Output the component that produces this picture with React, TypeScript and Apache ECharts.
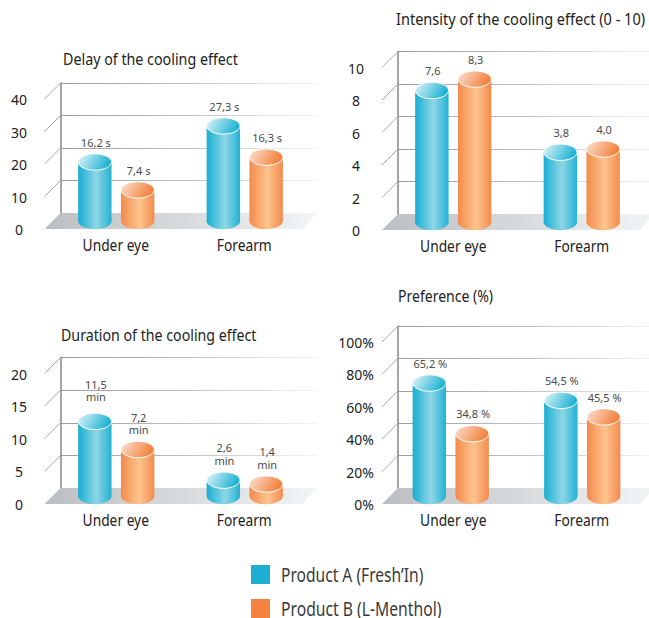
import React, { useEffect, useRef } from "react";
import * as echarts from "echarts";

const categories = ["Under eye", "Forearm"];
const productA = "Product A (Fresh\u2019In)";
const productB = "Product B (L-Menthol)";

const delayA = [15.7, 26.8];
const delayB = [7.1, 17.2];
const delayLabelsA = ["16,2 s", "27,3 s"];
const delayLabelsB = ["7,4 s", "16,3 s"];

const intensityA = [7.6, 3.8];
const intensityB = [8.3, 4.0];
const intensityLabelsA = ["7,6", "3,8"];
const intensityLabelsB = ["8,3", "4,0"];

const durationA = [10.2, 1.2];
const durationB = [5.9, 0.6];
const durationLabelsA = ["11,5\nmin", "2,6\nmin"];
const durationLabelsB = ["7,2\nmin", "1,4\nmin"];

const preferenceA = [64.8, 54.1];
const preferenceB = [33.5, 43.9];
const preferenceLabelsA = ["65,2 %", "54,5 %"];
const preferenceLabelsB = ["34,8 %", "45,5 %"];

const SANS = "'Noto Sans', sans-serif";
const DEPTH = 16;
const RX = 16.7;
const RY = 8.2;
const BAR_GAP = 21.4;
const FLOOR_BACK = 256;
const FLOOR_FRONT = 242;
const BLUE = "#1db0d3";
const ORANGE = "#f4833d";

const blueBody = () =>
  new echarts.graphic.LinearGradient(0, 0, 1, 0, [
    { offset: 0, color: "#18aed3" },
    { offset: 0.55, color: "#8fd6e6" },
    { offset: 1, color: "#22b2d4" },
  ]);
const orangeBody = () =>
  new echarts.graphic.LinearGradient(0, 0, 1, 0, [
    { offset: 0, color: "#f48a4c" },
    { offset: 0.55, color: "#fdc48e" },
    { offset: 1, color: "#f48a4c" },
  ]);
const blueTop = () =>
  new echarts.graphic.LinearGradient(0, 0, 1, 0.3, [
    { offset: 0, color: "#e6f6fa" },
    { offset: 1, color: "#1fb3d4" },
  ]);
const orangeTop = () =>
  new echarts.graphic.LinearGradient(0, 0, 1, 0.3, [
    { offset: 0, color: "#fbe3d6" },
    { offset: 1, color: "#f4823c" },
  ]);

type Panel = {
  title: string;
  titleX: number;
  titleY: number;
  titleScale: number;
  left: number;
  top: number;
  height: number;
  max: number;
  step: number;
  fmt: string;
  labelAlign: string;
  labelMargin: number;
  a: number[];
  b: number[];
  la: string[];
  lb: string[];
  shift: number[];
  nudge: number[];
};

const panels: Panel[] = [
  {
    title: "Delay of the cooling effect", titleX: 63, titleY: 59, titleScale: 0.84,
    left: 60.5, top: 83, height: 130, max: 40, step: 10, fmt: "{value}",
    labelAlign: "center", labelMargin: 25.5,
    a: delayA, b: delayB, la: delayLabelsA, lb: delayLabelsB,
    shift: [-8.5, -8.5], nudge: [0, 0, 0, 0],
  },
  {
    title: "Intensity of the cooling effect (0 - 10)", titleX: 396, titleY: 19, titleScale: 0.855,
    left: 398, top: 51.5, height: 162.5, max: 10, step: 2, fmt: "{value}",
    labelAlign: "center", labelMargin: 26,
    a: intensityA, b: intensityB, la: intensityLabelsA, lb: intensityLabelsB,
    shift: [-9, -9], nudge: [0, 0, 0, 0],
  },
  {
    title: "Duration of the cooling effect", titleX: 61, titleY: 334, titleScale: 0.835,
    left: 60.5, top: 357.5, height: 130.5, max: 20, step: 5, fmt: "{value}",
    labelAlign: "center", labelMargin: 25.5,
    a: durationA, b: durationB, la: durationLabelsA, lb: durationLabelsB,
    shift: [-8.5, -8.5], nudge: [5, 0, 0, 0],
  },
  {
    title: "Preference (%)", titleX: 398, titleY: 295, titleScale: 0.825,
    left: 398, top: 326, height: 162, max: 100, step: 20, fmt: "{value}%",
    labelAlign: "right", labelMargin: 8,
    a: preferenceA, b: preferenceB, la: preferenceLabelsA, lb: preferenceLabelsB,
    shift: [-11.5, -8.5], nudge: [0, 0, 0, 0],
  },
];

function frameSeries(p: Panel, i: number) {
  const ticks: number[][] = [];
  for (let v = 0; v <= p.max; v += p.step) ticks.push([0, v]);
  return {
    type: "custom",
    silent: true,
    xAxisIndex: i,
    yAxisIndex: i,
    z: 1,
    data: ticks,
    renderItem: (params: any, api: any) => {
      const v = api.value(1);
      const x = p.left;
      const y = api.coord([0, v])[1];
      if (v === 0) {
        return {
          type: "polygon",
          shape: {
            points: [
              [x, y],
              [x + FLOOR_BACK, y],
              [x + FLOOR_FRONT, y + DEPTH],
              [x - DEPTH, y + DEPTH],
            ],
          },
          style: {
            fill: new echarts.graphic.LinearGradient(0, 0, 1, 0, [
              { offset: 0, color: "#bdbec1" },
              { offset: 1, color: "#f3f4f5" },
            ]),
          },
        };
      }
      return {
        type: "line",
        shape: { x1: x, y1: y, x2: x - DEPTH, y2: y + DEPTH },
        style: { stroke: "#a5a7a7", lineWidth: 1 },
      };
    },
  };
}

function categorySeries(p: Panel, i: number) {
  return {
    type: "custom",
    silent: true,
    xAxisIndex: i,
    yAxisIndex: i,
    z: 3,
    data: categories.map((c, k) => [k, 0]),
    renderItem: (params: any, api: any) => {
      const k = api.value(0);
      const c = api.coord([k, 0]);
      return {
        type: "text",
        x: c[0] - 9,
        y: c[1] + 31.5,
        scaleX: 0.81,
        style: {
          text: categories[k],
          x: 0,
          y: 0,
          align: "center",
          verticalAlign: "middle",
          font: `17px ${SANS}`,
          fill: "#222222",
        },
      };
    },
  };
}

function barSeries(p: Panel, i: number, name: string, values: number[], labels: string[], side: number) {
  const isA = side < 0;
  return {
    type: "custom",
    name,
    silent: true,
    xAxisIndex: i,
    yAxisIndex: i,
    z: 2,
    itemStyle: { color: isA ? BLUE : ORANGE },
    data: values.map((v, k) => [k, v]),
    renderItem: (params: any, api: any) => {
      const k = api.value(0);
      const c = api.coord([k, api.value(1)]);
      const base = api.coord([k, 0])[1] + DEPTH / 2;
      const cx = c[0] + p.shift[k] + side * BAR_GAP;
      const topY = c[1];
      const nudge = p.nudge[k * 2 + (isA ? 0 : 1)];
      return {
        type: "group",
        children: [
          {
            type: "ellipse",
            shape: { cx, cy: base, rx: RX, ry: RY },
            style: { fill: isA ? blueBody() : orangeBody() },
          },
          {
            type: "rect",
            shape: { x: cx - RX, y: topY, width: RX * 2, height: base - topY },
            style: { fill: isA ? blueBody() : orangeBody() },
          },
          {
            type: "ellipse",
            shape: { cx, cy: topY, rx: RX, ry: RY },
            style: { fill: isA ? blueTop() : orangeTop(), stroke: "#ffffff", lineWidth: 1 },
          },
          {
            type: "text",
            style: {
              text: labels[k],
              x: cx + 1,
              y: topY - 13.5 - nudge,
              align: "center",
              verticalAlign: "bottom",
              font: `11px ${SANS}`,
              lineHeight: 12.5,
              fill: "#4a4a4a",
            },
          },
        ],
      };
    },
  };
}

const scaledText = (text: string, x: number, y: number, size: number, scaleX: number, fill: string) => ({
  type: "text",
  x,
  y,
  scaleX,
  style: { text, x: 0, y: 0, align: "left", verticalAlign: "middle", font: `${size}px ${SANS}`, lineHeight: size - 2, fill },
});

function buildOption() {
  const n = panels.length;
  return {
    animation: false,
    backgroundColor: "#ffffff",
    graphic: [
      ...panels.map((p) => scaledText(p.title, p.titleX, p.titleY, 17, p.titleScale, "#222222")),
      { type: "rect", shape: { x: 251, y: 565, width: 19, height: 19 }, style: { fill: BLUE } },
      { type: "rect", shape: { x: 251, y: 599, width: 19, height: 19 }, style: { fill: ORANGE } },
      scaledText(productA, 281, 574, 20, 0.78, "#3a3a3a"),
      scaledText(productB, 281, 608, 20, 0.785, "#3a3a3a"),
    ],
    grid: [
      // back wall of each panel: the marks and gridlines
      ...panels.map((p) => ({ left: p.left, top: p.top, width: 257, height: p.height, outerBoundsMode: "none" })),
      // front edge of each panel's floor: the value labels
      ...panels.map((p) => ({
        left: p.left - DEPTH,
        top: p.top + DEPTH + 0.5,
        width: 257,
        height: p.height,
        outerBoundsMode: "none",
      })),
    ],
    xAxis: [
      ...panels.map((p, i) => ({
        type: "category",
        gridIndex: i,
        data: categories,
        axisLine: { show: false },
        axisTick: { show: false },
        axisLabel: { show: false },
      })),
      ...panels.map((p, i) => ({
        type: "category",
        gridIndex: n + i,
        data: categories,
        show: false,
      })),
    ],
    yAxis: [
      ...panels.map((p, i) => ({
        type: "value",
        gridIndex: i,
        min: 0,
        max: p.max,
        interval: p.step,
        axisLine: { show: true, lineStyle: { color: "#85898a", width: 1.5 } },
        axisTick: { show: false },
        axisLabel: { show: false },
        splitLine: {
          show: true,
          lineStyle: {
            width: 1,
            color: new echarts.graphic.LinearGradient(
              p.left, 0, p.left + 257, 0,
              [
                { offset: 0, color: "#9b9d9d" },
                { offset: 0.55, color: "#c4c6c6" },
                { offset: 1, color: "#f6f6f6" },
              ],
              true
            ),
          },
        },
      })),
      ...panels.map((p, i) => ({
        type: "value",
        gridIndex: n + i,
        min: 0,
        max: p.max,
        interval: p.step,
        axisLine: { show: false },
        axisTick: { show: false },
        splitLine: { show: false },
        axisLabel: {
          formatter: p.fmt,
          align: p.labelAlign,
          margin: p.labelMargin,
          showMinLabel: true,
          showMaxLabel: true,
          fontFamily: SANS,
          fontSize: 14,
          color: "#222222",
        },
      })),
    ],
    series: panels.flatMap((p, i) => [
      frameSeries(p, i),
      barSeries(p, i, productA, p.a, p.la, -1),
      barSeries(p, i, productB, p.b, p.lb, 1),
      categorySeries(p, i),
    ]),
  };
}

export default function App() {
  const ref = useRef<HTMLDivElement>(null);
  useEffect(() => {
    document.body.style.margin = "0";
    const chart = echarts.init(ref.current!, undefined, { renderer: "svg" });
    chart.setOption(buildOption() as any);
    return () => chart.dispose();
  }, []);
  return <div ref={ref} style={{ width: 649, height: 618 }} />;
}
